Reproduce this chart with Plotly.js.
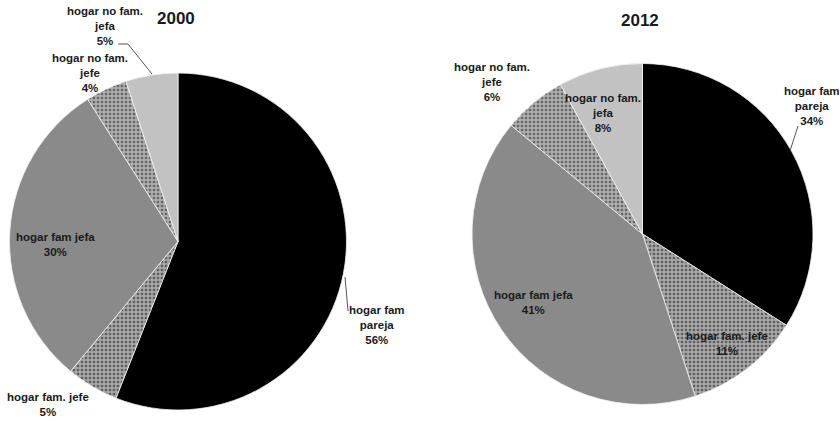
<!DOCTYPE html>
<html>
<head>
<meta charset="utf-8">
<script src="https://cdn.plot.ly/plotly-3.0.1.min.js"></script>
<style>
  html, body { margin: 0; padding: 0; background: #ffffff; }
  #chart { width: 840px; height: 421px; }
</style>
</head>
<body>
<div id="chart"></div>
<script>
// Household types, in clockwise order from 12 o'clock
const categories = ['hogar fam pareja', 'hogar fam. jefe', 'hogar fam jefa', 'hogar no fam. jefe', 'hogar no fam. jefa'];
// Wrapped versions of the category names for the slice labels
const labelLines = ['hogar fam<br>pareja', 'hogar fam. jefe', 'hogar fam jefa', 'hogar no fam.<br>jefe', 'hogar no fam.<br>jefa'];
// Share of households (%) per year
const share2000 = [56, 5, 30, 4, 5];
const share2012 = [34, 11, 41, 6, 8];
const years = ['2000', '2012'];

const W = 840, H = 421;
const px = x => x / W;
const py = y => 1 - y / H;

const sliceColors = ['#000000', '#a6a6a6', '#8a8a8a', '#adadad', '#c2c2c2'];
// speckled fill for the two "jefe" slices
const pattern = {
  shape: ['', '.', '', '.', ''],
  bgcolor: ['#000000', '#a6a6a6', '#8a8a8a', '#adadad', '#c2c2c2'],
  fgcolor: ['#000', '#5e5e5e', '#000', '#666666', '#000'],
  size: 4,
  solidity: 0.35
};

function pieTrace(values, name, box) {
  return {
    type: 'pie',
    name: name,
    labels: categories,
    values: values,
    sort: false,
    direction: 'clockwise',
    rotation: 0,
    textinfo: 'none',
    hoverinfo: 'label+percent',
    showlegend: false,
    marker: {
      colors: sliceColors,
      pattern: pattern,
      line: { color: '#f4f4f4', width: 0.8 }
    },
    domain: { x: [px(box[0]), px(box[2])], y: [py(box[3]), py(box[1])] }
  };
}

const data = [
  pieTrace(share2000, years[0], [9, 73, 347, 410]),
  pieTrace(share2012, years[1], [472, 63, 813, 405])
];

const labelFont = { family: 'Liberation Sans, Arial, sans-serif', size: 11.5, color: '#1a1a1a', weight: 'bold' };

function label(text, x, y) {
  return { text: text, x: px(x), y: py(y), xref: 'paper', yref: 'paper',
           xanchor: 'center', yanchor: 'middle', showarrow: false, font: labelFont };
}
const txt = (vals, i) => labelLines[i] + '<br>' + vals[i] + '%';

const titleFont = { family: 'Liberation Sans, Arial, sans-serif', size: 17, color: '#1a1a1a', weight: 'bold' };

const annotations = [
  // year headings
  { text: years[0], x: px(176), y: py(18), xref: 'paper', yref: 'paper', showarrow: false,
    xanchor: 'center', yanchor: 'middle', font: titleFont },
  { text: years[1], x: px(640), y: py(20), xref: 'paper', yref: 'paper', showarrow: false,
    xanchor: 'center', yanchor: 'middle', font: titleFont },
  // 2000
  label(txt(share2000, 4), 105, 26),
  label(txt(share2000, 3), 90, 73),
  label(txt(share2000, 2), 55, 244),
  label(txt(share2000, 1), 48, 404),
  label(txt(share2000, 0), 377, 325),
  // 2012
  label(txt(share2012, 3), 492, 82),
  label(txt(share2012, 4), 603, 113),
  label(txt(share2012, 0), 812, 106),
  label(txt(share2012, 2), 533, 302),
  label(txt(share2012, 1), 727, 343)
];

const lineStyle = { color: '#555555', width: 1 };
const shapes = [
  // leader lines
  { type: 'path', xref: 'paper', yref: 'paper', line: lineStyle,
    path: `M ${px(118)} ${py(44)} L ${px(128)} ${py(44)} L ${px(152)} ${py(74)}` },
  { type: 'line', xref: 'paper', yref: 'paper', line: lineStyle,
    x0: px(345), y0: py(277), x1: px(348), y1: py(311) },
  { type: 'line', xref: 'paper', yref: 'paper', line: lineStyle,
    x0: px(798), y0: py(126), x1: px(790), y1: py(151) }
];

const layout = {
  width: W, height: H,
  margin: { l: 0, r: 0, t: 0, b: 0 },
  paper_bgcolor: '#ffffff',
  plot_bgcolor: '#ffffff',
  annotations: annotations,
  shapes: shapes
};

Plotly.newPlot('chart', data, layout, { displayModeBar: false, staticPlot: true });
</script>
</body>
</html>
